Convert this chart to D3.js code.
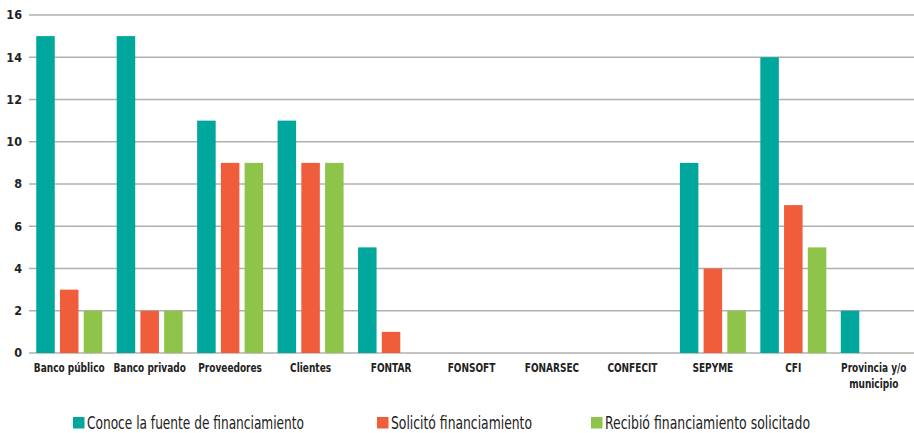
<!DOCTYPE html>
<html>
<head>
<meta charset="utf-8">
<script src="https://cdn.jsdelivr.net/npm/d3@7"></script>
<style>
  body { margin: 0; background: #fff; }
  text { font-family: "DejaVu Sans Condensed", "Liberation Sans Narrow", "Roboto", sans-serif; fill: #222; }
</style>
</head>
<body>
<svg id="chart" width="914" height="433"></svg>
<script>
var categories = ["Banco público", "Banco privado", "Proveedores", "Clientes", "FONTAR", "FONSOFT", "FONARSEC", "CONFECIT", "SEPYME", "CFI", "Provincia y/o municipio"];
var seriesNames = ["Conoce la fuente de financiamiento", "Solicitó financiamiento", "Recibió financiamiento solicitado"];
var conoce   = [15, 15, 11, 11, 5, 0, 0, 0, 9, 14, 2];
var solicito = [3, 2, 9, 9, 1, 0, 0, 0, 4, 7, 0];
var recibio  = [2, 2, 9, 9, 0, 0, 0, 0, 2, 5, 0];
var yTicks = [0, 2, 4, 6, 8, 10, 12, 14, 16];

var colors = ["#00a79d", "#ef5d3b", "#8dc449"];
var series = [conoce, solicito, recibio];

var svg = d3.select("#chart");

var x0 = d3.scaleBand().domain(categories).range([29, 914]).paddingInner(0.18).paddingOuter(0.09);
var x1 = d3.scaleBand().domain(d3.range(3)).range([0, x0.bandwidth()]).paddingInner(0.22);
var y = d3.scaleLinear().domain([0, 16]).range([353, 15]);

// gridlines
svg.append("g")
    .selectAll("line")
    .data(yTicks)
    .join("line")
    .attr("x1", 29)
    .attr("x2", 914)
    .attr("y1", d => y(d))
    .attr("y2", d => y(d))
    .attr("stroke", "#b0b0b0")
    .attr("stroke-width", 1.3);

// y labels
svg.append("g")
    .selectAll("text")
    .data(yTicks)
    .join("text")
    .attr("x", 22)
    .attr("y", d => y(d))
    .attr("dy", "0.35em")
    .attr("text-anchor", "end")
    .style("font-size", "12.5px")
    .style("font-weight", "bold")
    .text(d => d);

// bars
var groups = svg.append("g")
    .selectAll("g")
    .data(categories)
    .join("g")
    .attr("transform", d => "translate(" + x0(d) + ",0)");

groups.selectAll("rect")
    .data((d, i) => series.map((s, j) => ({ k: j, v: s[i] })))
    .join("rect")
    .attr("x", d => x1(d.k))
    .attr("width", x1.bandwidth())
    .attr("y", d => y(d.v))
    .attr("height", d => y(0) - y(d.v))
    .attr("fill", d => colors[d.k]);

// category labels (condensed look via horizontal scale)
svg.append("g")
    .selectAll("text")
    .data(categories)
    .join("text")
    .attr("transform", d => "translate(" + (x0(d) + x0.bandwidth() / 2) + ",372) scale(0.8,1)")
    .attr("text-anchor", "middle")
    .style("font-size", "12.5px")
    .style("font-weight", "bold")
    .each(function(d) {
        var el = d3.select(this);
        var lines = d == "Provincia y/o municipio" ? ["Provincia y/o", "municipio"] : [d];
        lines.forEach((t, i) => {
            el.append("tspan").attr("x", 0).attr("dy", i == 0 ? 0 : 16).text(t);
        });
    });

// legend
var legendX = [73, 377, 591];
var legendW = [217, 141, 205];
var legend = svg.append("g")
    .selectAll("g")
    .data(seriesNames)
    .join("g")
    .attr("transform", (d, i) => "translate(" + legendX[i] + ",417)");

legend.append("rect")
    .attr("width", 11.5)
    .attr("height", 11.5)
    .attr("fill", (d, i) => colors[i]);

legend.append("text")
    .attr("x", 14)
    .attr("y", 12)
    .attr("textLength", (d, i) => legendW[i])
    .attr("lengthAdjust", "spacingAndGlyphs")
    .style("font-size", "17px")
    .text(d => d);
</script>
</body>
</html>
